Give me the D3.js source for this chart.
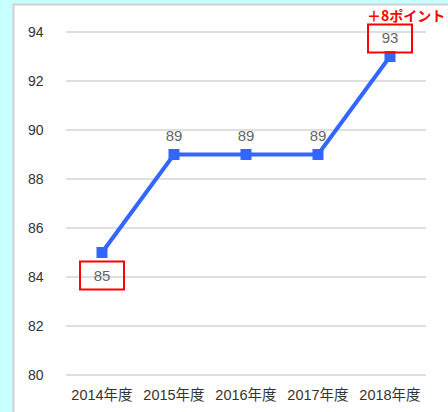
<!DOCTYPE html>
<html>
<head>
<meta charset="utf-8">
<script src="https://cdn.jsdelivr.net/npm/d3@7"></script>
<style>
body { margin: 0; background: #c8ffff; }
svg { display: block; font-family: "Liberation Sans", Arial, "Noto Sans CJK JP", sans-serif; }
</style>
</head>
<body>
<script>
var years = ["2014年度", "2015年度", "2016年度", "2017年度", "2018年度"];
var scores = [85, 89, 89, 89, 93];
var yTicks = [80, 82, 84, 86, 88, 90, 92, 94];
var note = "＋8ポイント";

const width = 448;
const height = 412;

var svg = d3.select("body")
    .append("svg")
    .attr("width", width)
    .attr("height", height);

// white panel
svg.append("rect")
    .attr("x", 13.5)
    .attr("y", 4.5)
    .attr("width", 460)
    .attr("height", 420)
    .style("fill", "#fff")
    .style("stroke", "#d0d0d0")
    .style("stroke-width", 2);

var x = d3.scaleBand()
    .domain(years)
    .range([66, 426]);

var y = d3.scaleLinear()
    .domain([80, 94])
    .range([375, 32]);

// gridlines
svg.selectAll("line.grid")
    .data(yTicks)
    .enter()
    .append("line")
    .attr("class", "grid")
    .attr("x1", 66)
    .attr("x2", 426)
    .attr("y1", function(d){return y(d)})
    .attr("y2", function(d){return y(d)})
    .style("stroke", "#d4d4d4")
    .style("stroke-width", 1.5);

// y labels
svg.selectAll("text.ytick")
    .data(yTicks)
    .enter()
    .append("text")
    .attr("class", "ytick")
    .attr("x", 28)
    .attr("y", function(d){return y(d)})
    .attr("dy", "0.35em")
    .style("font-size", "14px")
    .style("fill", "#333")
    .text(function(d){return d});

// x labels
svg.selectAll("text.xtick")
    .data(years)
    .enter()
    .append("text")
    .attr("class", "xtick")
    .attr("x", function(d){return x(d) + x.bandwidth() / 2})
    .attr("y", 395)
    .attr("dy", "0.35em")
    .attr("text-anchor", "middle")
    .style("font-size", "14.5px")
    .style("fill", "#333")
    .text(function(d){return d});

var pts = years.map(function(d, i){return {year: d, v: scores[i]}});
var cx = function(d){return x(d.year) + x.bandwidth() / 2};

svg.append("path")
    .datum(pts)
    .attr("d", d3.line().x(cx).y(function(d){return y(d.v)}))
    .style("fill", "none")
    .style("stroke", "#3366ff")
    .style("stroke-width", 4);

svg.selectAll("rect.pt")
    .data(pts)
    .enter()
    .append("rect")
    .attr("class", "pt")
    .attr("x", function(d){return cx(d) - 5.5})
    .attr("y", function(d){return y(d.v) - 5.5})
    .attr("width", 11)
    .attr("height", 11)
    .style("fill", "#3366ff");

// data labels: first one below, others above
svg.selectAll("text.lbl")
    .data(pts)
    .enter()
    .append("text")
    .attr("class", "lbl")
    .attr("x", cx)
    .attr("y", function(d, i){return i == 0 ? y(d.v) + 23 : y(d.v) - 19})
    .attr("dy", "0.35em")
    .attr("text-anchor", "middle")
    .style("font-size", "15px")
    .style("fill", "#666")
    .text(function(d){return d.v});

// red boxes on first and last labels
[pts[0], pts[4]].forEach(function(d, k){
    var ly = k == 0 ? y(d.v) + 23 : y(d.v) - 18;
    svg.append("rect")
        .attr("x", cx(d) - 22)
        .attr("y", ly - 14)
        .attr("width", 44)
        .attr("height", 28)
        .style("fill", "none")
        .style("stroke", "#ff0000")
        .style("stroke-width", 2);
});

svg.append("text")
    .attr("x", 367)
    .attr("y", 16)
    .attr("dy", "0.35em")
    .style("font-size", "14px")
    .style("font-weight", "bold")
    .style("font-family", "\"Noto Sans CJK JP\", sans-serif")
    .style("fill", "#ff0000")
    .text(note);
</script>
</body>
</html>
